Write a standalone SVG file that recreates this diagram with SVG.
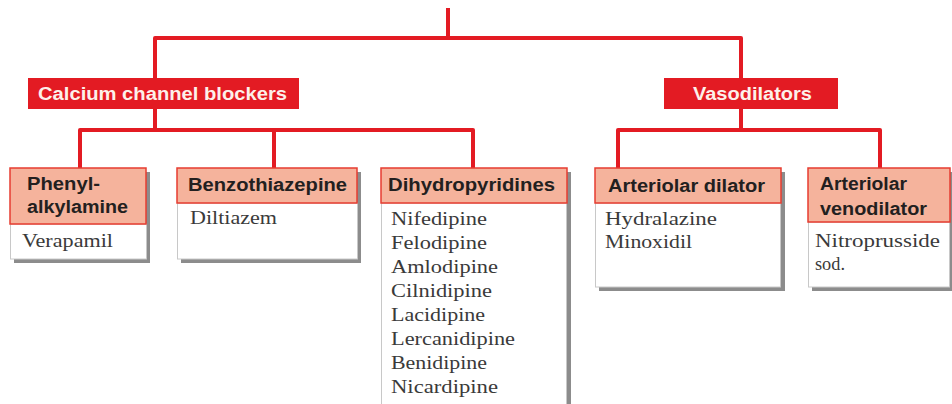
<svg xmlns="http://www.w3.org/2000/svg" width="952" height="404" viewBox="0 0 952 404">
<style>
.conn{fill:none;stroke:#e31b23;stroke-width:4;stroke-linejoin:round;stroke-linecap:butt}
.cat{fill:#e31b23}
.catt{font-family:"Liberation Sans",Arial,sans-serif;font-weight:bold;font-size:18px;fill:#fdf0ea}
.shadow{fill:#8c8c8c}
.body{fill:#ffffff;stroke:#c8c8c8;stroke-width:1}
.head{fill:#f5b39c;stroke:#e63d30;stroke-width:1.5}
.ht{font-family:"Liberation Sans",Arial,sans-serif;font-weight:bold;font-size:18px;fill:#231f20}
.bt{font-family:"Liberation Serif","Times New Roman",serif;font-size:19px;fill:#3a3a3a}
</style>
<rect width="952" height="404" fill="#ffffff"/>
<g id="connectors">
<path class="conn" d="M448 8 V38"/>
<path class="conn" d="M155 78 V38 H741 V78"/>
<path class="conn" d="M155 109 V130"/>
<path class="conn" d="M80 168 V130 H473 V168"/>
<path class="conn" d="M274 130 V168"/>
<path class="conn" d="M741 109 V130"/>
<path class="conn" d="M618 168 V130 H880 V168"/>
</g>
<g id="ccb">
<rect class="cat" x="28" y="78" width="271" height="31"/>
<text class="catt" x="38" y="100" textLength="249" lengthAdjust="spacingAndGlyphs">Calcium channel blockers</text>
</g>
<g id="vasodilators">
<rect class="cat" x="664" y="78" width="174" height="31"/>
<text class="catt" x="693" y="100" textLength="119" lengthAdjust="spacingAndGlyphs">Vasodilators</text>
</g>
<g id="phenylalkylamine">
<rect class="shadow" x="14" y="172" width="136" height="91"/>
<rect class="body" x="10.5" y="224" width="136" height="35"/>
<rect class="head" x="10" y="168" width="136" height="56"/>
<text class="ht" x="27" y="190" textLength="73" lengthAdjust="spacingAndGlyphs">Phenyl-</text>
<text class="ht" x="27" y="213" textLength="101" lengthAdjust="spacingAndGlyphs">alkylamine</text>
<text class="bt" x="22" y="247" textLength="91" lengthAdjust="spacingAndGlyphs">Verapamil</text>
</g>
<g id="benzothiazepine">
<rect class="shadow" x="181" y="172" width="180" height="91"/>
<rect class="body" x="177.5" y="203" width="180" height="56"/>
<rect class="head" x="177" y="168" width="180" height="35"/>
<text class="ht" x="188" y="191" textLength="159" lengthAdjust="spacingAndGlyphs">Benzothiazepine</text>
<text class="bt" x="190" y="224" textLength="87" lengthAdjust="spacingAndGlyphs">Diltiazem</text>
</g>
<g id="dihydropyridines">
<rect class="shadow" x="385" y="172" width="186" height="240"/>
<rect class="body" x="381.5" y="203" width="185" height="210"/>
<rect class="head" x="381" y="168" width="186" height="35"/>
<text class="ht" x="388" y="191" textLength="167" lengthAdjust="spacingAndGlyphs">Dihydropyridines</text>
<text class="bt" x="391" y="225" textLength="96" lengthAdjust="spacingAndGlyphs">Nifedipine</text>
<text class="bt" x="391" y="249" textLength="96" lengthAdjust="spacingAndGlyphs">Felodipine</text>
<text class="bt" x="391" y="273" textLength="107" lengthAdjust="spacingAndGlyphs">Amlodipine</text>
<text class="bt" x="391" y="297" textLength="101" lengthAdjust="spacingAndGlyphs">Cilnidipine</text>
<text class="bt" x="391" y="321" textLength="94" lengthAdjust="spacingAndGlyphs">Lacidipine</text>
<text class="bt" x="391" y="345" textLength="124" lengthAdjust="spacingAndGlyphs">Lercanidipine</text>
<text class="bt" x="391" y="369" textLength="96" lengthAdjust="spacingAndGlyphs">Benidipine</text>
<text class="bt" x="391" y="393" textLength="107" lengthAdjust="spacingAndGlyphs">Nicardipine</text>
</g>
<g id="arteriolar-dilator">
<rect class="shadow" x="599" y="172" width="186" height="119"/>
<rect class="body" x="595.5" y="203" width="185" height="84"/>
<rect class="head" x="595" y="168" width="186" height="35"/>
<text class="ht" x="608" y="192" textLength="157" lengthAdjust="spacingAndGlyphs">Arteriolar dilator</text>
<text class="bt" x="605" y="225" textLength="112" lengthAdjust="spacingAndGlyphs">Hydralazine</text>
<text class="bt" x="605" y="248" textLength="87" lengthAdjust="spacingAndGlyphs">Minoxidil</text>
</g>
<g id="arteriolar-venodilator">
<rect class="shadow" x="812" y="172" width="140" height="119"/>
<rect class="body" x="808.5" y="222" width="141" height="65"/>
<rect class="head" x="808" y="168" width="142" height="54"/>
<text class="ht" x="820" y="190" textLength="87" lengthAdjust="spacingAndGlyphs">Arteriolar</text>
<text class="ht" x="820" y="215" textLength="107" lengthAdjust="spacingAndGlyphs">venodilator</text>
<text class="bt" x="815" y="247" textLength="125" lengthAdjust="spacingAndGlyphs">Nitroprusside</text>
<text class="bt" x="815" y="270" textLength="30" lengthAdjust="spacingAndGlyphs">sod.</text>
</g>
</svg>
